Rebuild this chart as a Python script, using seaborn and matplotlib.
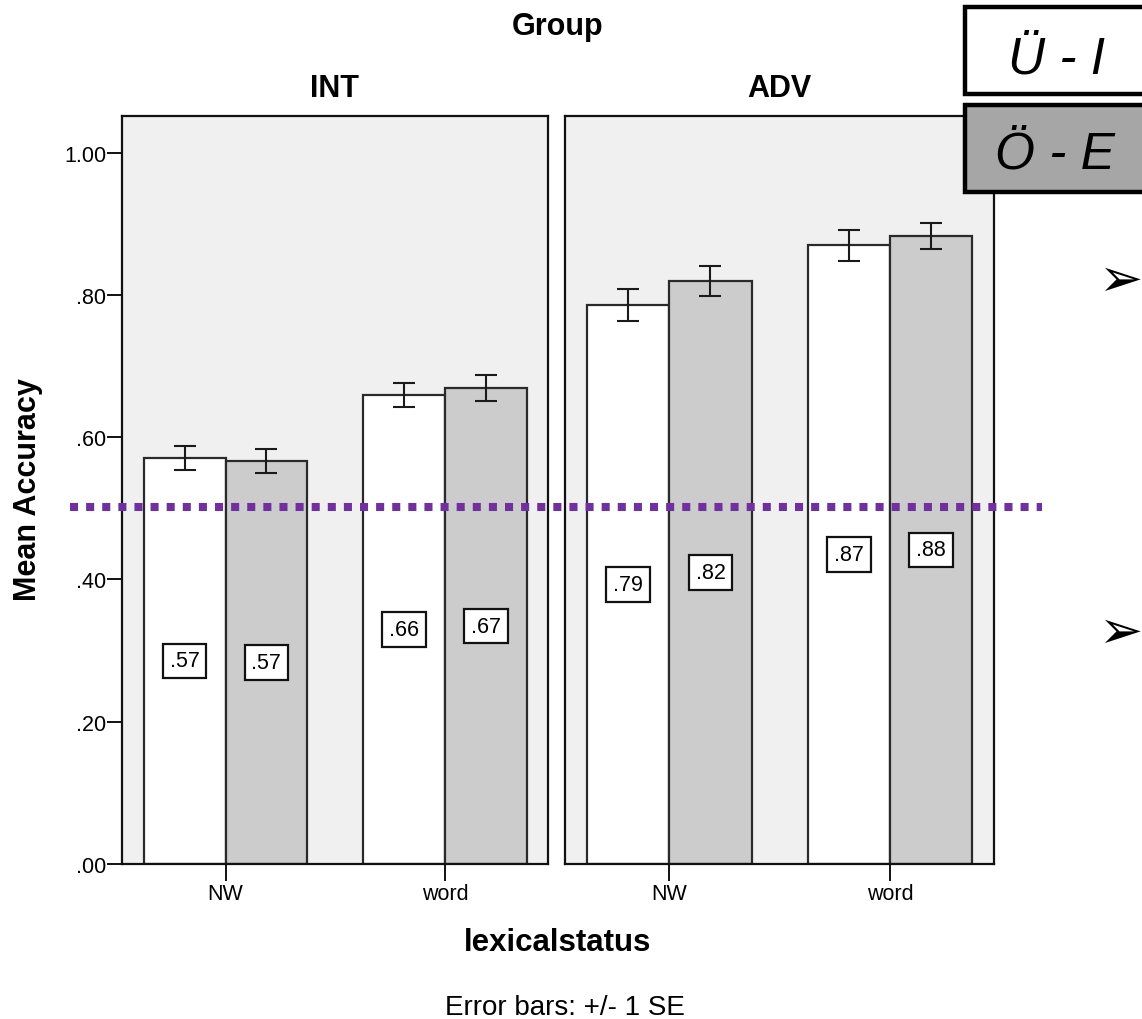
import matplotlib
matplotlib.use("Agg")
import matplotlib.pyplot as plt
from matplotlib.patches import Rectangle
from matplotlib.lines import Line2D
import seaborn as sns
import pandas as pd

# ---- data ----
groups = ["INT", "ADV"]
lexical = ["NW", "word"]
conditions = ["Ü - I", "Ö - E"]

mean_ui_int = [0.571, 0.659]
mean_oe_int = [0.566, 0.669]
mean_ui_adv = [0.786, 0.870]
mean_oe_adv = [0.819, 0.883]

se_ui_int = [0.017, 0.017]
se_oe_int = [0.017, 0.018]
se_ui_adv = [0.023, 0.022]
se_oe_adv = [0.021, 0.018]

yticks = [0.0, 0.2, 0.4, 0.6, 0.8, 1.0]
ytick_labels = [".00", ".20", ".40", ".60", ".80", "1.00"]

rows = []
for g, ui, oe, sui, soe in [("INT", mean_ui_int, mean_oe_int, se_ui_int, se_oe_int),
                             ("ADV", mean_ui_adv, mean_oe_adv, se_ui_adv, se_oe_adv)]:
    for i, lx in enumerate(lexical):
        rows.append(dict(Group=g, lexicalstatus=lx, condition=conditions[0], acc=ui[i], se=sui[i]))
        rows.append(dict(Group=g, lexicalstatus=lx, condition=conditions[1], acc=oe[i], se=soe[i]))
df = pd.DataFrame(rows)

# ---- style ----
sns.set_style("white")
plt.rcParams["font.family"] = ["Liberation Sans", "DejaVu Sans"]
plt.rcParams["text.color"] = "black"
plt.rcParams["axes.labelcolor"] = "black"
plt.rcParams["xtick.color"] = "black"
plt.rcParams["ytick.color"] = "black"

palette = {conditions[0]: "#ffffff", conditions[1]: "#cccccc"}

fig = plt.figure(figsize=(11.42, 10.20), dpi=100)
W, H = 1142, 1020

def fx(px):
    return px / W

def fy(py):
    return 1 - py / H

ax_pos = [
    [fx(121.7), fy(865), fx(548) - fx(121.7), fy(116.7) - fy(865)],
    [fx(565), fy(865), fx(993.5) - fx(565), fy(116.7) - fy(865)],
]

for k, g in enumerate(groups):
    ax = fig.add_axes(ax_pos[k])
    sub = df[df.Group == g]
    sns.barplot(data=sub, x="lexicalstatus", y="acc", hue="condition",
                order=lexical, hue_order=conditions, palette=palette,
                width=0.745, errorbar=None, edgecolor="#2a2a2a", linewidth=1.6,
                legend=False, ax=ax, zorder=2)
    ax.set_facecolor("#f0f0f0")
    ax.set_xlim(-0.473, 1.469)
    ax.set_ylim(0, 1.052)
    for sp in ax.spines.values():
        sp.set_visible(True)
        sp.set_color("#111111")
        sp.set_linewidth(1.6)
    ax.set_xlabel("")
    ax.set_ylabel("")
    ax.tick_params(axis="x", direction="out", length=12, width=1.4, pad=2,
                   labelsize=15.5, colors="#111111", labelcolor="black", bottom=True)
    if k == 0:
        ax.set_yticks(yticks)
        ax.set_yticklabels(ytick_labels)
        ax.tick_params(axis="y", direction="out", length=10.5, width=1.4, pad=0.5,
                       labelsize=15.5, colors="#111111", labelcolor="black", left=True)
    else:
        ax.set_yticks([])
    ax.set_title(g, fontsize=22, fontweight="bold", pad=14, color="black")

    # error bars and value labels
    for cont, cond in zip(ax.containers, conditions):
        for bar, lx in zip(cont, lexical):
            r = sub[(sub.lexicalstatus == lx) & (sub.condition == cond)].iloc[0]
            xc = bar.get_x() + bar.get_width() / 2
            m = bar.get_height()
            ax.errorbar(xc, m, yerr=r.se, fmt="none", ecolor="#1a1a1a",
                        elinewidth=1.5, capsize=7.8, capthick=1.5, zorder=4)
            ax.text(xc, m / 2, f"{r.acc:.2f}"[1:], ha="center", va="center",
                    fontsize=15.5, color="black", zorder=5,
                    bbox=dict(boxstyle="square,pad=0.32", fc="white",
                              ec="#111111", lw=1.6))

# titles and labels
fig.text(fx(558), fy(27), "Group", ha="center", va="center", fontsize=22, fontweight="bold")
fig.text(fx(28), fy(490), "Mean Accuracy", ha="center", va="center", rotation=90,
         fontsize=22, fontweight="bold")
fig.text(fx(557.5), fy(943), "lexicalstatus", ha="center", va="center",
         fontsize=22.5, fontweight="bold")
fig.text(fx(565), fy(1008), "Error bars: +/- 1 SE", ha="center", va="center", fontsize=20)

# reference line at 0.5
fig.add_artist(Line2D([fx(70), fx(1042)], [fy(508), fy(508)], transform=fig.transFigure,
                      color="#7030a0", lw=5.8, linestyle=(0, (1, 1)),
                      dash_capstyle="butt", zorder=10))

# legend boxes
fig.add_artist(Rectangle((fx(965), fy(95)), fx(200), fy(8) - fy(95),
                         transform=fig.transFigure, facecolor="white",
                         edgecolor="black", lw=3.2, zorder=11))
fig.add_artist(Rectangle((fx(965), fy(192.7)), fx(200), fy(106) - fy(192.7),
                         transform=fig.transFigure, facecolor="#a6a6a6",
                         edgecolor="black", lw=3.2, zorder=11))
fig.text(fx(1056.7), fy(73.3), conditions[0], ha="center", va="baseline",
         fontsize=37, fontstyle="italic", zorder=12)
fig.text(fx(1055), fy(168.3), conditions[1], ha="center", va="baseline",
         fontsize=37, fontstyle="italic", zorder=12)

# arrow bullets
for yy in (281, 633):
    fig.text(fx(1120), fy(yy), "\u27a2", ha="center", va="center", fontsize=38,
             family=["DejaVu Sans"], fontweight="bold", zorder=12)

fig.savefig("out.png", dpi=100)
